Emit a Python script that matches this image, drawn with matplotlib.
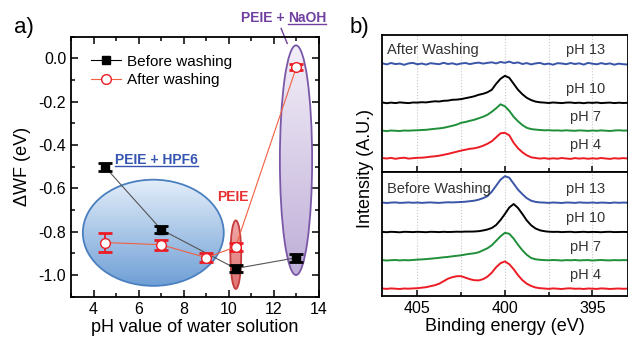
import numpy as np
import matplotlib
matplotlib.use('Agg')
import matplotlib.pyplot as plt
from matplotlib.patches import Ellipse
from matplotlib.lines import Line2D
from matplotlib.colors import LinearSegmentedColormap

plt.rcParams['font.family'] = ['Liberation Sans', 'DejaVu Sans']

# ---- panel a data: work function shift vs pH ----
ph_before = [4.5, 7.0, 10.3, 13.0]
wf_before = [-0.50, -0.79, -0.97, -0.92]
err_before = [0.018, 0.017, 0.017, 0.018]

ph_after = [4.5, 7.0, 9.0, 10.3, 13.0]
wf_after = [-0.85, -0.86, -0.92, -0.87, -0.04]
err_after = [0.042, 0.023, 0.02, 0.02, 0.012]

# ---- panel b data: N1s spectra, energy grid 407 -> 393 eV in 0.25 eV steps ----
e_start, e_step = 407.0, 0.25
labels_ph = ['pH 13', 'pH 10', 'pH 7', 'pH 4']

after_pH13 = [0.5, -0.6, 0.8, -0.3, 0.2, -1.0, 0.4, 0.9,
              -0.5, 0.3, -0.8, 0.6, 0.1, -0.4, 1.0, -0.2,
              0.5, -0.7, 0.3, 0.8, -0.3, 0.6, 1.2, 0.2,
              0.9, 1.5, 0.4, 1.8, 1.0, 2.2, 0.6, 1.4,
              -0.2, 0.7, -0.6, 0.4, 0.9, -0.5, 0.2, -0.9,
              0.6, 0.3, -0.4, 0.8, -0.2, 0.5, -0.8, 0.9,
              0.1, -0.5, 0.7, -0.3, 0.4, -0.9, 0.2, -0.4,
              -0.7]
after_pH10 = [0.3, -0.4, 0.2, -0.3, 0.4, 0.0, -0.3, 0.3,
              0.2, 0.6, 0.4, 1.0, 1.5, 1.3, 2.0, 2.2,
              3.0, 3.2, 3.7, 4.6, 5.5, 6.5, 8.0, 9.0,
              10.5, 13.0, 19.0, 24.0, 27.0, 25.0, 19.0, 13.0,
              8.5, 5.0, 2.7, 1.2, 0.5, 0.2, -0.2, 0.3,
              0.0, -0.3, 0.2, 0.3, -0.2, 0.1, -0.4, 0.2,
              -0.1, 0.3, -0.3, 0.0, 0.2, -0.3, 0.1, -0.2,
              0.0]
after_pH7 = [0.2, -0.3, 0.3, 0.0, -0.2, 0.3, 0.1, 0.4,
             0.5, 0.8, 1.0, 1.5, 2.0, 2.4, 3.0, 4.0,
             5.0, 6.2, 8.0, 8.8, 10.0, 11.0, 12.5, 14.0,
             16.0, 19.0, 22.5, 26.5, 24.5, 20.0, 14.0, 9.5,
             5.7, 3.0, 1.7, 1.2, 0.8, 0.5, 0.6, 0.3,
             0.4, 0.1, 0.5, 0.2, 0.0, 0.4, 0.2, -0.1,
             0.3, 0.0, 0.4, 0.1, -0.2, 0.3, 0.5, 0.2,
             0.3]
after_pH4 = [0.3, -0.2, 0.4, -0.5, 0.2, 0.6, -0.3, 0.1,
             0.5, 0.6, 1.0, 1.6, 2.0, 2.6, 3.5, 4.4,
             5.5, 6.6, 7.7, 8.6, 9.5, 10.0, 11.0, 12.5,
             14.5, 17.0, 21.0, 25.0, 25.5, 23.0, 15.5, 10.0,
             6.0, 3.0, 1.0, 0.3, -0.3, 0.2, -0.5, 0.0,
             -0.4, 0.3, -0.2, -0.6, 0.2, -0.3, 0.1, -0.5,
             0.0, -0.4, 0.3, -0.2, -0.6, 0.1, -0.3, 0.2,
             -0.2]

before_pH13 = [0.2, -0.3, 0.1, 0.3, -0.2, 0.0, 0.3, -0.1,
               0.2, -0.2, 0.1, 0.3, 0.0, -0.2, 0.2, 0.4,
               0.3, 0.5, 0.7, 1.0, 1.5, 2.0, 3.0, 4.5,
               6.5, 11.0, 17.0, 23.0, 26.5, 25.0, 19.0, 13.0,
               8.5, 4.5, 2.0, 0.8, 0.3, 0.1, -0.2, 0.2,
               0.0, -0.3, 0.2, 0.1, -0.2, 0.3, 0.0, -0.1,
               0.2, -0.2, 0.1, 0.0, -0.3, 0.2, -0.1, 0.1,
               0.0]
before_pH10 = [0.1, -0.2, 0.2, 0.0, -0.3, 0.2, 0.1, -0.1,
               0.2, 0.0, -0.2, 0.2, 0.1, -0.1, 0.2, 0.0,
               0.1, 0.3, 0.2, 0.4, 0.4, 0.5, 0.8, 1.5,
               2.5, 4.0, 7.0, 12.0, 18.0, 24.5, 28.0, 24.0,
               18.0, 11.5, 6.7, 3.5, 1.7, 0.8, 0.3, 0.1,
               0.2, -0.1, 0.1, 0.2, -0.2, 0.0, 0.2, -0.1,
               0.1, 0.0, -0.2, 0.1, 0.2, -0.1, 0.0, 0.1,
               0.0]
before_pH7 = [0.2, -0.2, 0.1, 0.3, -0.1, 0.2, 0.0, 0.3,
              0.7, 0.9, 1.2, 1.6, 2.0, 2.5, 3.0, 3.4,
              4.0, 4.5, 5.0, 5.8, 6.5, 7.0, 8.0, 10.0,
              12.0, 15.0, 19.5, 24.0, 27.5, 26.5, 21.7, 15.5,
              10.0, 5.5, 2.3, 1.0, 0.5, 0.2, 0.0, 0.3,
              0.1, -0.2, 0.2, 0.0, 0.3, -0.1, 0.1, 0.2,
              -0.2, 0.1, 0.3, 0.0, -0.1, 0.2, 0.0, 0.2,
              0.1]
before_pH4 = [0.2, -0.2, 0.3, 0.0, -0.3, 0.2, 0.0, 0.3,
              0.5, 1.0, 1.5, 2.5, 3.5, 5.0, 7.5, 10.0,
              11.5, 12.5, 12.5, 11.0, 9.5, 8.5, 8.3, 9.5,
              12.0, 16.0, 21.5, 25.5, 27.3, 24.5, 19.5, 13.5,
              8.5, 5.0, 2.7, 1.2, 0.5, 0.2, -0.2, 0.3,
              0.0, -0.3, 0.2, 0.4, -0.1, 0.1, -0.3, 0.2,
              0.0, -0.2, 0.3, 0.1, -0.3, 0.0, 0.2, -0.1,
              0.1]

after_offsets = [108.5, 69.5, 41.5, 14.0]
before_offsets = [93.0, 63.7, 35.4, 7.0]
spec_colors = ['#3a55a8', 'black', '#1f8f3a', '#ec1c24']


def shaded_ellipse(ax, xy, w, h, c_top, c_bot, edge):
    ell = Ellipse(xy, w, h, facecolor='none', edgecolor=edge, lw=1.3, zorder=3)
    ax.add_patch(ell)
    grad = np.linspace(0, 1, 256).reshape(-1, 1)
    cmap = LinearSegmentedColormap.from_list('g', [c_top, c_bot])
    im = ax.imshow(grad, cmap=cmap, aspect='auto', origin='upper', zorder=1,
                   extent=(xy[0] - w / 2, xy[0] + w / 2, xy[1] - h / 2, xy[1] + h / 2))
    im.set_clip_path(ell)


fig = plt.figure(figsize=(6.28, 3.39), dpi=100)

# ================= panel a =================
ax = fig.add_axes([71 / 628, 42.3 / 339, 248 / 628, 260 / 339])

shaded_ellipse(ax, (6.65, -0.805), 6.25, 0.49, '#e4eefa', '#6f9fd6', '#4a7fc0')
shaded_ellipse(ax, (10.31, -0.906), 0.48, 0.316, '#f2a8a8', '#e07474', '#c43c3c')
shaded_ellipse(ax, (12.98, -0.47), 1.43, 1.06, '#f3eff8', '#bfaed8', '#7a58a8')

ax.plot(ph_before, wf_before, '-', color='#555555', lw=0.8, zorder=4)
ax.plot(ph_after, wf_after, '-', color='#f26040', lw=0.8, zorder=4)
ax.errorbar(ph_before, wf_before, yerr=err_before, fmt='s', color='black', ms=6,
            capsize=5, elinewidth=1.3, capthick=2, zorder=5)
ax.errorbar(ph_after, wf_after, yerr=err_after, fmt='o', color='#ec1c24', mfc='white',
            mec='#ec1c24', ms=7, capsize=5, elinewidth=1.3, capthick=2, zorder=6)

ax.set_xlim(3, 14)
ax.set_ylim(-1.1, 0.1)
ax.set_xticks([4, 6, 8, 10, 12, 14])
ax.set_xticks(np.arange(3, 14, 2), minor=True)
ax.set_yticks([0.0, -0.2, -0.4, -0.6, -0.8, -1.0])
ax.set_yticklabels(['0.0', '-0.2', '-0.4', '-0.6', '-0.8', '-1.0'])
ax.set_yticks([0.1, -0.1, -0.3, -0.5, -0.7, -0.9, -1.1], minor=True)
ax.tick_params(which='both', direction='in', top=True, right=True, labelsize=11.5, width=1.1)
ax.tick_params(which='major', length=5)
ax.tick_params(which='minor', length=3)
for s in ax.spines.values():
    s.set_linewidth(1.3)
ax.set_xlabel('pH value of water solution', fontsize=13, labelpad=2)
ax.set_ylabel('\u0394WF (eV)', fontsize=13, labelpad=5)

handles = [Line2D([], [], color='black', lw=0.8, marker='s', ms=6),
           Line2D([], [], color='#f26040', lw=0.8, marker='o', mfc='white', mec='#ec1c24', ms=7)]
ax.legend(handles, ['Before washing', 'After washing'], loc='upper left',
          bbox_to_anchor=(0.055, 0.955), frameon=False, fontsize=11, handlelength=2.0,
          handletextpad=0.4, labelspacing=0.3, borderaxespad=0)

t_hpf = ax.text(4.95, -0.468, 'PEIE + HPF6', color='#3555b0', fontsize=10,
                fontweight='bold', va='center', ha='left')
ax.text(9.5, -0.642, 'PEIE', color='#e83030', fontsize=10, fontweight='bold',
        va='center', ha='left')
t_peie = ax.text(10.52, 0.188, 'PEIE + ', color='#7040a0', fontsize=10,
                 fontweight='bold', va='center', ha='left')
ax.plot([12.32, 12.59], [0.138, 0.069], color='#7040a0', lw=1.0, clip_on=False)

fig.text(14 / 628, 1 - 28 / 339, 'a)', fontsize=16, va='center', ha='left')

# ================= panel b =================
bx_left, bx_w = 382.3 / 628, 245.2 / 628
ax_top = fig.add_axes([bx_left, (339 - 172.3) / 339, bx_w, 137.3 / 339])
ax_bot = fig.add_axes([bx_left, (339 - 295.7) / 339, bx_w, 123.4 / 339])

energy = e_start - e_step * np.arange(len(after_pH13))
after_sets = [after_pH13, after_pH10, after_pH7, after_pH4]
before_sets = [before_pH13, before_pH10, before_pH7, before_pH4]

for axx, sets, offs, ylim, title in [
        (ax_top, after_sets, after_offsets, 137.3, 'After Washing'),
        (ax_bot, before_sets, before_offsets, 123.4, 'Before Washing')]:
    for g in [405, 402.5, 400, 397.5, 395]:
        axx.axvline(g, color='#c8c8c8', lw=0.8, ls=':', zorder=0)
    for vals, off, col, lab in zip(sets, offs, spec_colors, labels_ph):
        axx.plot(energy, np.array(vals) + off, color=col, lw=1.4)
        axx.text(395.4, off + 13.5, lab, fontsize=10.5, ha='center', va='center', color='#333333')
    axx.text(406.75, offs[0] + 14, title, fontsize=10.5, ha='left', va='center', color='#333333')
    axx.set_xlim(407, 393)
    axx.set_ylim(0, ylim)
    axx.set_yticks([])
    axx.set_xticks([405, 400, 395])
    axx.set_xticks([402.5, 397.5], minor=True)
    axx.tick_params(which='both', direction='in', top=False, labelsize=11.5, width=1.1)
    axx.tick_params(which='major', length=4)
    axx.tick_params(which='minor', length=3)
    for s in axx.spines.values():
        s.set_linewidth(1.3)

ax_top.tick_params(labelbottom=False)
ax_bot.set_xlabel('Binding energy (eV)', fontsize=13, labelpad=2)
fig.text(365 / 628, 1 - 168 / 339, 'Intensity (A.U.)', rotation=90, fontsize=13,
         ha='center', va='center')
fig.text(350 / 628, 1 - 28 / 339, 'b)', fontsize=16, va='center', ha='left')

# underline the labelled groups
fig.canvas.draw()
rend = fig.canvas.get_renderer()
inv = ax.transData.inverted()
bb = t_peie.get_window_extent(rend)
x0 = inv.transform((bb.x1, bb.y0))[0]
t_naoh = ax.text(x0, 0.188, 'NaOH', color='#7040a0', fontsize=10,
                 fontweight='bold', va='center', ha='left')
fig.canvas.draw()
for t, c in [(t_naoh, '#7040a0'), (t_hpf, '#3555b0')]:
    bb = t.get_window_extent(rend)
    (ux0, uy), (ux1, _) = inv.transform([(bb.x0, bb.y0 + 1), (bb.x1, bb.y0 + 1)])
    ax.plot([ux0, ux1], [uy, uy], color=c, lw=1.0, clip_on=False)

fig.savefig('out.png', dpi=100)
